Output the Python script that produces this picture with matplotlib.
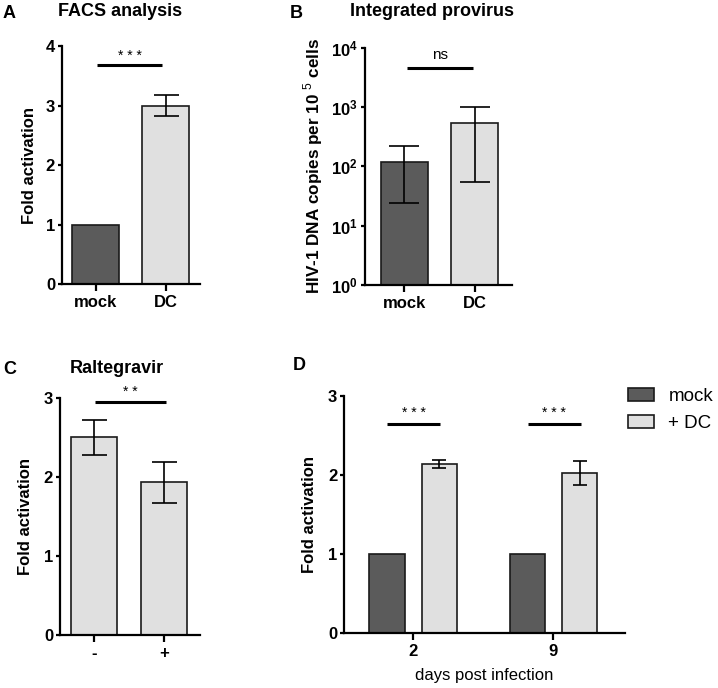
import numpy as np
import matplotlib
matplotlib.use("Agg")
import matplotlib.pyplot as plt
from matplotlib.patches import Patch

plt.rcParams['font.family'] = ['Liberation Sans', 'DejaVu Sans']
plt.rcParams['mathtext.fontset'] = 'custom'
plt.rcParams['mathtext.rm'] = 'Liberation Sans'
plt.rcParams['mathtext.bf'] = 'Liberation Sans:bold'

# panel A - FACS analysis
facsLabels = ["mock", "DC"]
facsMeans = [1.0, 3.0]
facsErr = [0.0, 0.18]

# panel B - integrated provirus (copies per 10^5 cells)
provLabels = ["mock", "DC"]
provMeans = [120, 535]
provLow = [24, 54]
provHigh = [220, 1000]

# panel C - raltegravir
raltLabels = ["-", "+"]
raltMeans = [2.5, 1.93]
raltErr = [0.22, 0.26]

# panel D - days post infection
days = ["2", "9"]
dMock = [1.0, 1.0]
dDC = [2.14, 2.03]
dDCErr = [0.05, 0.15]

darkGrey = "#5b5b5b"
lightGrey = "#e0e0e0"
edge = "#1a1a1a"

fig = plt.figure(figsize=(7.18, 6.88), dpi=100)


def styleAxis(ax, xticklen=5):
    for s in ["top", "right"]:
        ax.spines[s].set_visible(False)
    ax.spines["left"].set_linewidth(1.6)
    ax.spines["bottom"].set_linewidth(1.6)
    ax.tick_params(axis="y", length=3, width=1.6, labelsize=12, pad=2)
    ax.tick_params(axis="x", length=xticklen, width=1.6, labelsize=12, pad=3)
    for lbl in ax.get_xticklabels() + ax.get_yticklabels():
        lbl.set_fontweight("bold")


def sigBar(ax, x0, x1, y, ytxt, txt, size=10):
    ax.plot([x0, x1], [y, y], color="black", lw=2.2, solid_capstyle="butt", clip_on=False)
    ax.text((x0 + x1) / 2, ytxt, txt, ha="center", va="center", fontsize=size, clip_on=False)


# ---- A
axA = fig.add_axes([62 / 718, 1 - 284 / 688, 138 / 718, 238 / 688])
x = np.arange(len(facsLabels))
axA.bar(x, facsMeans, width=0.67, color=[darkGrey, lightGrey], edgecolor=edge, linewidth=1.2, zorder=2)
axA.errorbar(x[1:], facsMeans[1:], yerr=facsErr[1:], fmt="none", ecolor="black", elinewidth=1.2,
             capsize=9, capthick=1.2, zorder=3)
axA.set_xlim(-0.48, 1.49)
axA.set_ylim(0, 4)
axA.set_yticks([0, 1, 2, 3, 4])
axA.set_xticks(x)
axA.set_xticklabels(facsLabels)
axA.set_ylabel("Fold activation", fontsize=12, fontweight="bold", labelpad=6)
styleAxis(axA)
sigBar(axA, 0.02, 0.95, 3.68, 3.84, "* * *")

# ---- B
axB = fig.add_axes([365 / 718, 1 - 285 / 688, 146.7 / 718, 237.3 / 688])
x = np.arange(len(provLabels))
axB.set_yscale("log")
axB.bar(x, np.array(provMeans) - 1, bottom=1, width=0.667, color=[darkGrey, lightGrey], edgecolor=edge,
        linewidth=1.2, zorder=2)
yerrB = [np.array(provMeans) - np.array(provLow), np.array(provHigh) - np.array(provMeans)]
axB.errorbar(x, provMeans, yerr=yerrB, fmt="none", ecolor="black", elinewidth=1.2,
             capsize=11, capthick=1.2, zorder=3)
axB.set_xlim(-0.556, 1.525)
axB.set_ylim(1, 1e4)
axB.set_yticks([1, 10, 100, 1000, 10000])
axB.set_yticklabels([r"$\mathbf{10^{%d}}$" % i for i in range(5)])
axB.minorticks_off()
axB.set_xticks(x)
axB.set_xticklabels(provLabels)
axB.set_ylabel("HIV-1 DNA copies per 10 $^{5}$ cells", fontsize=12.3, fontweight="bold", labelpad=4)
styleAxis(axB)
sigBar(axB, 0.04, 0.98, 10 ** 3.66, 10 ** 3.87, "ns", 11)

# ---- C
axC = fig.add_axes([60 / 718, 1 - 635 / 688, 140 / 718, 237.3 / 688])
x = np.arange(len(raltLabels))
axC.bar(x, raltMeans, width=0.66, color=lightGrey, edgecolor=edge, linewidth=1.2, zorder=2)
axC.errorbar(x, raltMeans, yerr=raltErr, fmt="none", ecolor="black", elinewidth=1.2,
             capsize=9, capthick=1.2, zorder=3)
axC.set_xlim(-0.49, 1.51)
axC.set_ylim(0, 3)
axC.set_yticks([0, 1, 2, 3])
axC.set_xticks(x)
axC.set_xticklabels(raltLabels)
axC.set_ylabel("Fold activation", fontsize=12, fontweight="bold", labelpad=8)
styleAxis(axC)
sigBar(axC, 0.01, 1.03, 2.95, 3.07, "* *")

# ---- D
axD = fig.add_axes([344.3 / 718, 1 - 633.3 / 688, 280.7 / 718, 237.3 / 688])
x = np.arange(len(days))
off = 0.186
axD.bar(x - off, dMock, width=0.25, color=darkGrey, edgecolor=edge, linewidth=1.2, zorder=2, label="mock")
axD.bar(x + off, dDC, width=0.25, color=lightGrey, edgecolor=edge, linewidth=1.2, zorder=2, label="+ DC")
axD.errorbar(x + off, dDC, yerr=dDCErr, fmt="none", ecolor="black", elinewidth=1.2,
             capsize=5, capthick=1.2, zorder=3)
axD.set_xlim(-0.49, 1.51)
axD.set_ylim(0, 3)
axD.set_yticks([0, 1, 2, 3])
axD.set_xticks(x)
axD.set_xticklabels(days)
axD.set_ylabel("Fold activation", fontsize=12, fontweight="bold", labelpad=8)
axD.set_xlabel("days post infection", fontsize=12, labelpad=6)
styleAxis(axD)
for xi in x:
    sigBar(axD, xi - 0.183, xi + 0.195, 2.64, 2.79, "* * *")

handles = [Patch(facecolor=darkGrey, edgecolor=edge, linewidth=1.2),
           Patch(facecolor=lightGrey, edgecolor=edge, linewidth=1.2)]
fig.legend(handles, ["mock", "+ DC"], loc="upper left", bbox_to_anchor=(628 / 718, 1 - 388 / 688),
           frameon=False, fontsize=13.5, handlelength=1.4, handleheight=0.72, handletextpad=0.75,
           labelspacing=0.5, borderpad=0, borderaxespad=0)

# titles and panel letters
fig.text(3 / 718, 1 - 13 / 688, "A", fontsize=13, fontweight="bold", va="center", ha="left")
fig.text(120 / 718, 1 - 12 / 688, "FACS analysis", fontsize=13, fontweight="bold", va="center", ha="center")
fig.text(290 / 718, 1 - 13 / 688, "B", fontsize=13, fontweight="bold", va="center", ha="left")
fig.text(432 / 718, 1 - 12 / 688, "Integrated provirus", fontsize=13, fontweight="bold", va="center", ha="center")
fig.text(3 / 718, 1 - 370 / 688, "C", fontsize=13, fontweight="bold", va="center", ha="left")
fig.text(117 / 718, 1 - 369 / 688, "Raltegravir", fontsize=13, fontweight="bold", va="center", ha="center")
fig.text(293 / 718, 1 - 366 / 688, "D", fontsize=13, fontweight="bold", va="center", ha="left")

fig.savefig("out.png", dpi=100)
